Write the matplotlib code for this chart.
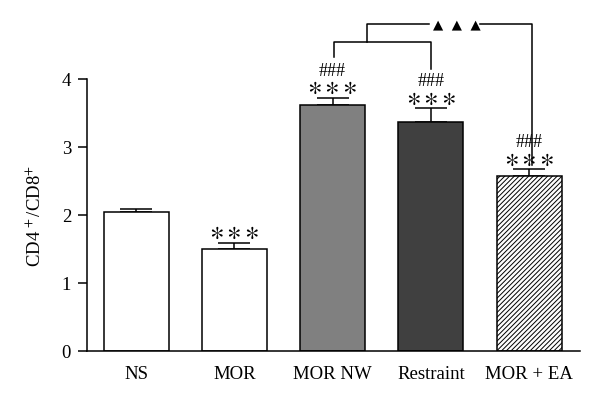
import matplotlib.pyplot as plt
import numpy as np

plt.rcParams["font.family"] = ["Liberation Serif", "DejaVu Serif"]
plt.rcParams["mathtext.fontset"] = "stix"
plt.rcParams["hatch.linewidth"] = 0.7

groups = ["NS", "MOR", "MOR NW", "Restraint", "MOR + EA"]
means = [2.05, 1.50, 3.62, 3.37, 2.58]
errors = [0.04, 0.09, 0.10, 0.20, 0.09]
star_text = r"${\ast}\,{\ast}\,{\ast}$"
stars = ["", star_text, star_text, star_text, star_text]
hashes = ["", "", "###", "###", "###"]
colors = ["white", "white", "#808080", "#404040", "white"]
hatches = [None, None, None, None, "///////"]

fig = plt.figure(figsize=(6, 4.02), dpi=100)
ax = fig.add_axes([0.145, 0.1244, 0.822, 0.6766])

x = np.arange(len(groups))
for i in range(len(groups)):
    ax.bar(x[i], means[i], width=0.66, color=colors[i], edgecolor="black",
           linewidth=1.1, hatch=hatches[i], zorder=2)
    ax.errorbar(x[i], means[i], yerr=[[0], [errors[i]]], fmt="none",
                ecolor="black", elinewidth=1.1, capsize=11.5, capthick=1.1, zorder=1)
    top = means[i] + errors[i]
    if stars[i]:
        ax.text(x[i], top + 0.15, stars[i], ha="center", va="center",
                fontsize=20, clip_on=False)
    if hashes[i]:
        ax.text(x[i], top + 0.41, hashes[i], ha="center", va="center",
                fontsize=13, clip_on=False)

# comparison brackets
kw = dict(color="black", lw=1.1, clip_on=False)
ax.plot([2.01, 2.01, 3.0, 3.0], [4.33, 4.54, 4.54, 4.15], **kw)
ax.plot([2.35, 2.35, 2.98], [4.54, 4.81, 4.81], **kw)
ax.plot([3.5, 4.03, 4.03], [4.81, 4.81, 2.74], **kw)
ax.text(3.26, 4.81, "▲  ▲  ▲", ha="center", va="center", fontsize=9.5,
        family=["DejaVu Sans"], clip_on=False)

ax.set_xlim(-0.5, 4.52)
ax.set_ylim(0, 4)
ax.set_yticks([0, 1, 2, 3, 4])
ax.set_xticks(x)
ax.set_xticklabels(groups)
ax.tick_params(axis="x", length=0, pad=10, labelsize=13.5)
ax.tick_params(axis="y", length=6.5, width=1.1, pad=5, labelsize=13.5)
ax.set_ylabel(r"CD4$^{\,+}$/CD8$^{+}$", fontsize=13.5, labelpad=12)
for side in ["top", "right"]:
    ax.spines[side].set_visible(False)
for side in ["left", "bottom"]:
    ax.spines[side].set_linewidth(1.1)

fig.savefig("out.png", dpi=100)
